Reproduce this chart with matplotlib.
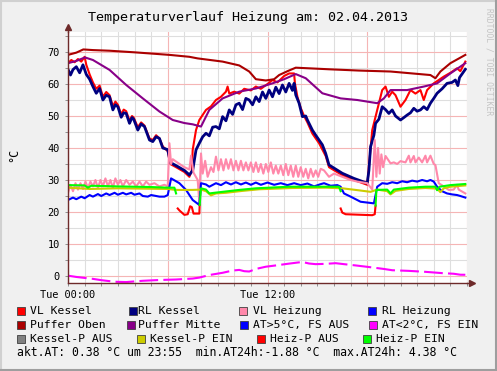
import numpy as np
import matplotlib
matplotlib.use("Agg")
import matplotlib.pyplot as plt
from matplotlib.ticker import MultipleLocator, FuncFormatter
from matplotlib.patches import Rectangle
from matplotlib.lines import Line2D

W, H = 497, 371
MONO = "DejaVu Sans Mono"

title = "Temperaturverlauf Heizung am: 02.04.2013"
x_tick_labels = {0: "Tue 00:00", 12: "Tue 12:00"}

# ---------------- data (hours of day, °C) ----------------
po_t = [0, 0.5, 0.92, 1.5, 2.5, 4, 6.1, 7.3, 7.8, 9.3, 10.3, 10.9, 11.3, 11.9, 12.4, 12.7, 13.2, 13.7,
        14.5, 15.7, 17.5, 19.4, 21.8, 22.1, 22.4, 23.0, 23.9]
po_v = [69.1, 69.8, 70.8, 70.6, 70.4, 69.9, 69.1, 68.5, 68.0, 67.0, 65.8, 63.9, 61.5, 61.1, 61.5, 62.8, 64.0, 65.1,
        64.9, 64.6, 64.2, 63.9, 62.8, 61.8, 63.9, 66.5, 69.1]

pm_t = [0, 0.5, 1.02, 1.5, 2.5, 3.5, 4.5, 5.5, 6.3, 7.0, 7.5, 8.0, 8.5, 9.3, 10.3, 11.3, 12.3, 13.0, 13.7,
        14.3, 15.3, 16.4, 17.4, 18.6, 19.0, 19.4, 20.4, 21.4, 22.2, 23.0, 23.9]
pm_v = [66.5, 67.2, 68.3, 67.5, 64.4, 59.7, 55.5, 51.4, 48.75, 47.8, 47.4, 46.7, 51.9, 55.5, 57.6, 58.6, 60.2, 61.5, 63.1,
        61.8, 57.1, 55.5, 55.0, 54.0, 55.5, 58.1, 58.1, 59.2, 60.2, 63.3, 66.5]

rk_t = [0.0, 0.15, 0.3, 0.5, 0.7, 0.9, 1.1, 1.3, 1.5, 1.7, 1.9, 2.1, 2.3, 2.5, 2.7, 2.85, 3.0, 3.2, 3.35, 3.5,
        3.7, 3.85, 3.95, 4.2, 4.4, 4.6, 4.9, 5.1, 5.3, 5.5, 5.7, 6.0, 6.15, 6.5, 7.0, 7.3, 7.5, 7.7, 7.9, 8.1,
        8.3, 8.5, 8.7, 8.9, 9.1, 9.3, 9.5, 9.7, 9.9, 10.1, 10.3, 10.5, 10.7, 10.9, 11.1, 11.3, 11.5, 11.7, 11.9, 12.1,
        12.3, 12.5, 12.7, 12.9, 13.1, 13.3, 13.5, 13.6, 13.7, 13.9, 14.1, 14.3, 14.4, 14.7, 14.9, 15.1, 15.3, 15.5, 15.7, 16.5,
        17.2, 18.0, 18.1, 18.2, 18.4, 18.5, 18.7, 18.9, 19.1, 19.3, 19.5, 19.7, 20.0, 20.2, 20.4, 20.6, 20.8, 21.0, 21.2, 21.4,
        21.6, 21.8, 22.0, 22.2, 22.5, 22.8, 23.1, 23.3, 23.45, 23.55, 23.9]
rk_v = [64.6, 62.8, 64.5, 65.4, 63.5, 66.0, 63.0, 61.5, 59.2, 57.1, 58.6, 55.0, 56.5, 56.0, 51.9, 53.5, 52.9, 49.6, 51.0, 50.8,
        47.7, 49.5, 49.0, 45.6, 47.5, 46.7, 42.5, 42.0, 43.5, 43.0, 40.0, 39.5, 35.5, 34.5, 33.0, 31.6, 33.0, 39.4, 41.5, 43.5,
        44.6, 43.8, 46.5, 46.7, 46.0, 49.8, 48.5, 51.9, 50.5, 53.5, 54.0, 52.0, 55.5, 55.0, 53.5, 56.0, 54.5, 57.5, 55.5, 58.1,
        56.0, 59.0, 57.0, 59.7, 57.5, 60.2, 58.0, 60.2, 56.6, 54.0, 49.8, 50.0, 48.75, 45.6, 44.0, 42.5, 41.0, 38.3, 34.7, 32.1,
        30.5, 29.0, 33.0, 40.4, 44.0, 47.7, 49.0, 52.9, 52.0, 50.8, 51.9, 50.0, 48.75, 49.5, 50.3, 51.0, 52.4, 51.5, 51.9, 52.9,
        52.0, 54.0, 55.5, 57.1, 58.5, 60.2, 60.5, 61.25, 59.5, 62.0, 64.6]

vk_t = [0.0, 0.2, 0.4, 0.6, 0.8, 1.0, 1.1, 1.3, 1.5, 1.7, 1.9, 2.1, 2.3, 2.5, 2.7, 2.85, 3.0, 3.2, 3.35, 3.5,
        3.7, 3.85, 3.95, 4.2, 4.4, 4.6, 4.9, 5.1, 5.3, 5.5, 5.7, 6.0, 6.15, 6.5, 7.0, 7.3, 7.45, 7.5, 7.7, 7.9,
        8.3, 8.6, 8.9, 9.2, 9.5, 9.6, 9.7, 10.0, 10.3, 10.6, 11.0, 11.3, 11.6, 12.0, 12.3, 12.6, 13.0, 13.3, 13.6, 13.65,
        13.8, 14.0, 14.2, 14.4, 14.7, 15.1, 15.5, 15.7, 16.5, 17.2, 18.0, 18.1, 18.3, 18.5, 18.9, 19.1, 19.3, 19.5, 19.7, 20.0,
        20.3, 20.6, 20.9, 21.2, 21.4, 21.6, 22.0, 22.6, 23.0, 23.4, 23.6, 23.9]
vk_v = [66.5, 67.5, 66.8, 67.8, 67.0, 68.5, 66.0, 63.0, 60.5, 58.5, 59.5, 56.0, 57.5, 56.5, 53.0, 54.5, 53.5, 50.5, 52.0, 51.5,
        48.5, 50.0, 49.5, 46.5, 48.0, 47.0, 43.0, 42.5, 44.0, 43.0, 40.5, 39.0, 35.0, 34.0, 32.5, 31.0, 33.0, 39.4, 45.6, 48.75,
        51.9, 53.0, 55.0, 56.0, 57.6, 59.2, 57.0, 57.6, 57.0, 58.5, 58.0, 59.2, 58.5, 60.0, 61.25, 60.5, 62.5, 63.3, 63.3, 60.2,
        56.0, 52.5, 50.0, 48.0, 44.5, 41.5, 37.5, 34.0, 31.5, 30.0, 28.5, 34.0, 45.6, 49.8, 58.1, 59.2, 56.0, 57.6, 56.5, 52.9,
        55.0, 58.1, 57.0, 58.1, 55.0, 58.1, 60.2, 62.3, 63.5, 64.9, 64.0, 67.0]

rh_t = [0, 0.3, 0.5, 0.8, 1.0, 1.3, 1.5, 1.8, 2.0, 2.3, 2.5, 2.8, 3.0, 3.3, 3.5, 3.8, 4.0, 4.3, 4.5, 4.8,
        5.0, 5.5, 5.8, 6.0, 6.2, 6.7, 7.1, 7.5, 7.9, 8.0, 8.3, 8.5, 8.9, 9.2, 9.5, 9.8, 10.1, 10.4, 10.7, 11.0,
        11.3, 11.6, 12.0, 12.4, 12.8, 13.2, 13.6, 14.0, 14.4, 14.8, 15.2, 15.4, 15.8, 16.2, 16.4, 16.6, 17.0, 17.6, 18.4, 18.6,
        18.9, 19.2, 19.5, 19.8, 20.1, 20.4, 20.7, 21.0, 21.3, 21.6, 21.8, 22.0, 22.2, 22.5, 22.8, 23.1, 23.4, 23.6, 23.9]
rh_v = [23.75, 24.5, 24.0, 24.8, 24.3, 25.3, 24.8, 25.6, 25.0, 25.8, 25.3, 26.0, 25.4, 26.0, 25.5, 26.0, 25.4, 25.8, 25.0, 24.8,
        25.3, 24.8, 24.8, 25.3, 30.5, 29.0, 26.9, 23.75, 22.2, 29.0, 28.6, 27.9, 29.0, 28.4, 29.3, 28.6, 29.3, 28.6, 29.2, 28.5,
        29.2, 28.5, 29.2, 28.5, 29.0, 28.4, 29.0, 28.4, 28.9, 28.0, 28.7, 29.0, 28.2, 28.4, 27.9, 25.8, 24.8, 23.2, 22.7, 27.9,
        29.0, 28.8, 29.3, 29.0, 29.6, 29.3, 29.8, 29.5, 30.0, 29.6, 30.0, 29.5, 27.9, 26.5, 25.8, 25.5, 25.3, 25.0, 24.5]

vh_t = [0.0, 0.15, 0.3, 0.45, 0.6, 0.75, 0.9, 1.05, 1.2, 1.35, 1.5, 1.65, 1.8, 1.95, 2.1, 2.25, 2.4, 2.55, 2.7, 2.85,
        3.0, 3.15, 3.3, 3.5, 3.7, 3.9, 4.1, 4.3, 4.5, 4.7, 4.9, 5.2, 5.5, 5.8, 6.0, 6.1, 6.2, 6.3, 6.6, 7.0,
        7.3, 7.4, 7.55, 7.8, 7.9, 8.0, 8.1, 8.25, 8.4, 8.6, 8.75, 8.9, 9.05, 9.2, 9.35, 9.5, 9.65, 9.8, 9.95, 10.1,
        10.25, 10.4, 10.55, 10.7, 10.85, 11.0, 11.15, 11.3, 11.45, 11.6, 11.75, 11.9, 12.05, 12.2, 12.35, 12.5, 12.65, 12.8, 12.95, 13.1,
        13.25, 13.4, 13.55, 13.7, 13.85, 14.0, 14.15, 14.3, 14.45, 14.6, 14.75, 14.9, 15.05, 15.2, 15.4, 15.7, 16.0, 16.5, 17.0, 17.4,
        18.0, 18.3, 18.45, 18.55, 18.65, 18.75, 18.85, 18.95, 19.1, 19.4, 19.6, 19.8, 20.0, 20.3, 20.5, 20.6, 20.8, 20.9, 21.1, 21.3,
        21.5, 21.6, 21.8, 22.0, 22.1, 22.3, 22.6, 22.9, 23.2, 23.4, 23.5, 23.9]
vh_v = [26.0, 28.5, 26.5, 29.0, 27.0, 29.0, 27.2, 29.5, 27.5, 29.5, 28.0, 30.0, 27.5, 30.0, 28.0, 30.5, 28.0, 30.0, 27.5, 30.5,
        28.5, 30.0, 28.0, 30.0, 28.5, 29.5, 28.0, 29.5, 28.0, 29.5, 28.5, 29.0, 28.0, 28.5, 28.0, 41.5, 35.0, 36.5, 35.4, 34.0,
        33.3, 37.6, 32.3, 30.0, 23.0, 38.3, 32.0, 36.0, 31.0, 34.0, 32.5, 37.3, 33.0, 36.5, 33.0, 36.5, 33.5, 36.5, 33.0, 36.0,
        33.0, 36.0, 33.0, 35.5, 33.0, 35.5, 32.5, 35.5, 32.5, 35.0, 32.0, 35.0, 32.5, 35.5, 32.0, 34.5, 32.0, 34.5, 31.5, 35.0,
        31.5, 34.5, 31.0, 34.5, 31.0, 34.0, 31.0, 33.5, 30.5, 33.5, 31.0, 33.0, 31.0, 33.5, 33.0, 31.0, 32.0, 31.0, 30.0, 29.5,
        29.0, 27.0, 42.5, 31.0, 40.0, 32.0, 38.0, 34.0, 37.5, 35.2, 35.5, 35.0, 35.9, 35.5, 37.6, 35.5, 37.5, 35.5, 37.0, 35.5,
        37.6, 35.5, 37.6, 35.0, 34.7, 29.0, 28.0, 26.9, 27.0, 28.5, 27.0, 25.8]

at_t = [0, 0.5, 1, 1.5, 2, 2.8, 3.5, 4, 4.5, 5.5, 6.5, 7.5, 7.9, 8.5, 9.3, 9.9, 10.3, 10.6, 10.9, 11.3,
        11.9, 12.5, 13.2, 13.8, 14.1, 14.5, 14.9, 15.5, 16.1, 16.6, 17.3, 18.1, 19.0, 19.5, 20.5, 21.5, 22.5, 23.2, 23.6, 23.9]
at_v = [0.1, -0.3, -0.6, -0.9, -1.3, -1.8, -1.9, -1.7, -1.5, -1.25, -1.1, -0.8, -0.5, 0.3, 1.0, 1.7, 1.9, 1.5, 1.4, 2.2,
        2.9, 3.3, 3.8, 4.2, 4.38, 3.9, 3.7, 3.8, 4.0, 3.7, 3.3, 2.8, 2.2, 1.8, 1.6, 1.3, 0.9, 0.7, 0.4, 0.38]

ke_t = [0, 1.3, 3, 6.0, 6.3, 6.6, 7.5, 8.0, 8.3, 8.6, 8.9, 9.5, 10.5, 11.5, 13.5, 15.5, 16.5, 17.3, 18.2, 18.6,
        19.2, 19.4, 19.7, 20.5, 21.5, 22.2, 22.4, 22.6, 23.0, 23.9]
ke_v = [27.6, 27.2, 27.4, 27.2, 27.0, 26.9, 26.9, 27.0, 26.5, 25.2, 25.8, 26.0, 26.6, 27.1, 27.5, 27.6, 27.4, 26.9, 26.3, 27.0,
        26.5, 25.5, 26.6, 27.2, 27.5, 27.3, 26.2, 27.4, 27.9, 28.3]

ha_t = [6.6, 6.7, 7.0, 7.2, 7.35, 7.45, 7.55, 7.9, 7.92, np.nan, 16.4, 16.5, 16.7, 18.3, 18.45, 18.5]
ha_v = [21.1, 20.5, 19.1, 19.3, 21.8, 21.5, 19.5, 19.5, 22.2, np.nan, 21.1, 19.8, 19.3, 19.0, 19.3, 22.0]

he_t = [0, 1.0, 1.2, 1.4, 3, 5, 6.0, 6.4, 6.5, np.nan, 7.92, 8.0, 8.3, 8.5, 8.8, 9.3, 10.3, 11.3, 13.3, 15.4,
        16.3, 16.4, np.nan, 18.5, 18.55, 19.2, 19.4, 19.6, 20.5, 21.5, 22.1, 22.2, 22.35, 23.0, 23.9]
he_v = [28.4, 28.3, 27.6, 28.2, 28.0, 27.8, 27.6, 27.6, 25.8, np.nan, 22.2, 27.4, 27.0, 25.8, 26.0, 26.3, 26.9, 27.4, 27.9, 27.9,
        27.9, 26.5, np.nan, 22.0, 26.9, 27.0, 25.8, 27.0, 27.6, 27.9, 27.9, 26.8, 27.9, 28.4, 28.75]

legend_labels = ["VL Kessel", "RL Kessel", "VL Heizung", "RL Heizung",
                 "Puffer Oben", "Puffer Mitte", "AT>5°C, FS AUS", "AT<2°C, FS EIN",
                 "Kessel-P AUS", "Kessel-P EIN", "Heiz-P AUS", "Heiz-P EIN"]
legend_colors = ["#ff0000", "#000080", "#ff88aa", "#0000ff",
                 "#aa0000", "#880088", "#0000ff", "#ff00ff",
                 "#808080", "#cccc00", "#ff0000", "#00ff00"]
summary = "akt.AT: 0.38 °C um 23:55  min.AT24h:-1.88 °C  max.AT24h: 4.38 °C"

# ---------------- figure ----------------
fig = plt.figure(figsize=(W / 100, H / 100), dpi=100)
fig.patch.set_facecolor("#f0f0f0")

L, R, T, B = 68, 467, 32, 283
ax = fig.add_axes([L / W, 1 - B / H, (R - L) / W, (B - T) / H])
ax.set_facecolor("white")
ax.set_xlim(0, 24)
ax.set_ylim(-2.19, 76.25)

ax.xaxis.set_major_locator(MultipleLocator(6))
ax.xaxis.set_minor_locator(MultipleLocator(1))
ax.yaxis.set_major_locator(MultipleLocator(10))
ax.yaxis.set_minor_locator(MultipleLocator(5))
ax.grid(which="minor", color="#dedede", linewidth=0.8)
ax.grid(which="major", color="#f5b5b5", linewidth=0.8)
ax.set_axisbelow(True)
ax.xaxis.set_major_formatter(FuncFormatter(lambda v, p: x_tick_labels.get(int(round(v)), "") if abs(v - round(v)) < 1e-6 else ""))
ax.yaxis.set_major_formatter(FuncFormatter(lambda v, p: f"{v:.0f}"))
ax.tick_params(which="both", length=2, width=0.7, color="#909090", labelsize=7.4)
ax.tick_params(axis="x", pad=3)
ax.tick_params(axis="y", pad=4)
for lab in ax.get_xticklabels() + ax.get_yticklabels():
    lab.set_fontfamily(MONO)

for s in ["top", "right"]:
    ax.spines[s].set_visible(False)
axis_col = "#6e2a2a"
for s in ["left", "bottom"]:
    ax.spines[s].set_color(axis_col)
    ax.spines[s].set_linewidth(1.0)

lw = 1.5
ax.plot(vk_t, vk_v, color=legend_colors[0], lw=lw)
ax.plot(rk_t, rk_v, color=legend_colors[1], lw=lw + 0.5)
ax.plot(vh_t, vh_v, color=legend_colors[2], lw=lw)
ax.plot(rh_t, rh_v, color=legend_colors[3], lw=lw)
ax.plot(po_t, po_v, color=legend_colors[4], lw=lw)
ax.plot(pm_t, pm_v, color=legend_colors[5], lw=lw)
ax.plot(at_t, at_v, color=legend_colors[7], lw=lw, linestyle=(0, (9, 2.5)))
ax.plot(ke_t, ke_v, color=legend_colors[9], lw=lw)
ax.plot(ha_t, ha_v, color=legend_colors[10], lw=lw)
ax.plot(he_t, he_v, color=legend_colors[11], lw=lw)

# axis arrows
ax.plot([0, 0], [1, 1.015], transform=ax.transAxes, color=axis_col, lw=1.0, clip_on=False)
ax.plot([0], [1.02], marker="^", markersize=4.5, color=axis_col, transform=ax.transAxes, clip_on=False)
ax.plot([1, 1.008], [0, 0], transform=ax.transAxes, color=axis_col, lw=1.0, clip_on=False)
ax.plot([1.012], [0], marker=">", markersize=4.5, color=axis_col, transform=ax.transAxes, clip_on=False)

# texts
fig.text(0.5, 1 - 17 / H, title, ha="center", va="center", fontsize=9.6, family=MONO)
fig.text(14 / W, 1 - 155 / H, "°C", ha="center", va="center", rotation=90, fontsize=8.5, family=MONO)
fig.text(489 / W, 1 - 62 / H, "RRDTOOL / TOBI OETIKER", ha="center", va="center", rotation=270,
         fontsize=5.8, family=MONO, color="#c4c4c4")

# legend (manual, rrdtool style)
sq_x = [[16.7, 129.3, 239.3, 368.3], [16.7, 126.7, 240, 369.3], [16.7, 136.7, 256.7, 363.3]]
tx_x = [[30, 138.3, 253.3, 381.7], [30, 138.3, 253.3, 381.7], [30, 150, 270, 376]]
row_y = [311, 325, 339]
for r in range(3):
    for c in range(4):
        i = r * 4 + c
        yc = row_y[r]
        fig.add_artist(Rectangle((sq_x[r][c] / W, 1 - (yc + 4) / H), 8 / W, 8 / H,
                                 transform=fig.transFigure, facecolor=legend_colors[i],
                                 edgecolor="#404040", linewidth=0.6))
        fig.text(tx_x[r][c] / W, 1 - yc / H, legend_labels[i], ha="left", va="center",
                 fontsize=8.2, family=MONO)
fig.text(16.7 / W, 1 - 353 / H, summary, ha="left", va="center", fontsize=8.3, family=MONO)

# frame
fig.add_artist(Line2D([0, 1], [1 - 1 / H, 1 - 1 / H], transform=fig.transFigure, color="#d0d0d0", lw=1.5))
fig.add_artist(Line2D([1 / W, 1 / W], [0, 1], transform=fig.transFigure, color="#d0d0d0", lw=1.5))
fig.add_artist(Line2D([0, 1], [1 / H, 1 / H], transform=fig.transFigure, color="#9e9e9e", lw=1.5))
fig.add_artist(Line2D([1 - 1 / W, 1 - 1 / W], [0, 1], transform=fig.transFigure, color="#9e9e9e", lw=1.5))

fig.savefig("out.png", dpi=100, facecolor=fig.get_facecolor())
